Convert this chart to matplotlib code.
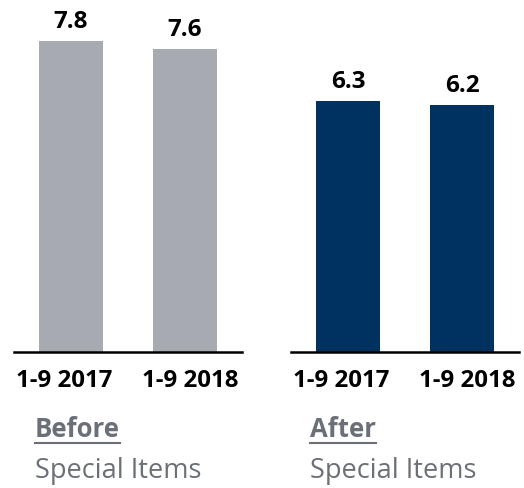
import matplotlib
matplotlib.use("Agg")
import matplotlib.pyplot as plt

plt.rcParams['font.family'] = ['Open Sans', 'DejaVu Sans']

periods = ["1-9 2017", "1-9 2018"]
before_values = [7.8, 7.6]
after_values = [6.3, 6.2]
panel_titles = ["Before", "After"]
panel_subtitle = "Special Items"

gray = "#a7abb1"
navy = "#00325f"
text_gray = "#6b7078"

W, H = 524, 489
PT = 72 / 100  # points per pixel
fig = plt.figure(figsize=(W / 100, H / 100), dpi=100)

ytop = 353 / 39.9
label_dx = [-7, 5]  # horizontal nudges of period labels, pixels
panels = [(14, before_values, gray, 35), (291, after_values, navy, 310)]
for i, (left_px, vals, col, title_x) in enumerate(panels):
    ax = fig.add_axes([left_px / W, (H - 353) / H, 228 / W, 353 / H])
    x = list(range(len(periods)))
    ax.bar(x, vals, width=0.553, color=col)
    ax.set_xlim(-0.5, 1.5)
    ax.set_ylim(0, ytop)
    for xi, v in zip(x, vals):
        ax.annotate(f"{v:.1f}", (xi, v), xytext=(0, 14 * PT), textcoords="offset points",
                    ha="center", va="baseline", fontsize=17.5, fontweight="bold", color="black")
    for xi, lab, dx in zip(x, periods, label_dx):
        ax.annotate(lab, (xi, 0), xycoords=("data", "axes fraction"),
                    xytext=(dx * PT, -34 * PT), textcoords="offset points",
                    ha="center", va="baseline", fontsize=17.3, fontweight="bold",
                    color="black", annotation_clip=False)
    for s in ["top", "left", "right"]:
        ax.spines[s].set_visible(False)
    ax.spines["bottom"].set_linewidth(1.8)
    ax.spines["bottom"].set_color("black")
    ax.set_yticks([])
    ax.set_xticks([])
    t = fig.text(title_x / W, 1 - 437 / H, panel_titles[i], fontsize=18.5, fontweight="bold",
                 color=text_gray, ha="left", va="baseline")
    fig.canvas.draw()
    bb = t.get_window_extent()
    fig.add_artist(plt.Line2D([bb.x0 / W, bb.x1 / W], [(H - 443.5) / H, (H - 443.5) / H],
                              color=text_gray, linewidth=1.5))
    fig.text(title_x / W, 1 - 478 / H, panel_subtitle, fontsize=19.5, color=text_gray,
             ha="left", va="baseline")

fig.savefig("out.png", dpi=100)
